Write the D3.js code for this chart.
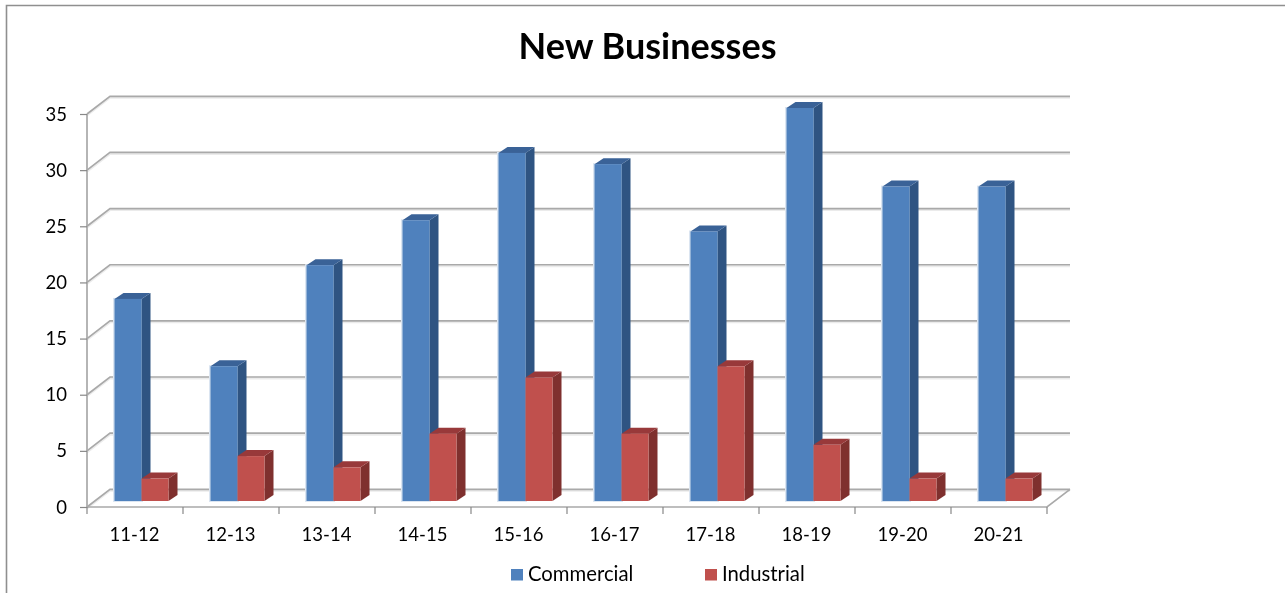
<!DOCTYPE html>
<html><head><meta charset="utf-8">
<script src="https://cdn.jsdelivr.net/npm/d3@7/dist/d3.min.js"></script>
<style>html,body{margin:0;padding:0;background:#fff;overflow:hidden}svg{display:block;filter:blur(0.4px)}text{font-family:Lato,"Open Sans",sans-serif;fill:#000}</style>
</head><body><svg id="c" width="1285" height="593"></svg>
<script>
const categories=["11-12","12-13","13-14","14-15","15-16","16-17","17-18","18-19","19-20","20-21"];
const commercial=[18,12,21,25,31,30,24,35,28,28];
const industrial=[2,4,3,6,11,6,12,5,2,2];
const yTicks=[0,5,10,15,20,25,30,35];
const seriesNames=["Commercial","Industrial"];

const svg=d3.select("#c");
const grid="#a9a9a9";
const x=d3.scaleBand().domain(categories).range([87,1047]);
const y=d3.scaleLinear().domain([0,35]).range([507,114]);
const wallDx=23,wallDy=-17.7;    // depth of the chart box
const barDx=9,barDy=-6;          // depth of each bar
const baseDx=6.5,baseDy=-6;      // offset of bar front from the floor front edge
const barW=27;

svg.append("path").attr("d","M6.5,593V5.5H1285").attr("fill","none").attr("stroke","#8f8f8f").attr("stroke-width",1.6);
svg.append("text").text("New Businesses").attr("x",647.5).attr("y",59).attr("text-anchor","middle")
  .attr("font-size",36).attr("font-weight",700);

const gridG=svg.append("g").attr("fill","none");
yTicks.forEach(t=>{
  const p=`M87,${y(t)}L${87+wallDx},${y(t)+wallDy}H${1047+wallDx}`;
  gridG.append("path").attr("d",p).attr("stroke","#000").attr("stroke-opacity",.08).attr("stroke-width",2).attr("transform","translate(0,1.5)");
  gridG.append("path").attr("d",p).attr("stroke",grid).attr("stroke-width",1.7);
});
gridG.append("path").attr("d",`M87,${y(35)}V${y(0)}H1047L${1047+wallDx},${y(0)+wallDy}`).attr("stroke",grid).attr("stroke-width",1.7);

const axisY=d3.axisLeft(y).tickValues(yTicks).tickSize(7).tickPadding(13);
const gy=svg.append("g").attr("transform","translate(87,0)").call(axisY);
const xTickVals=categories.map(c=>x(c)).concat([x.range()[1]]);
svg.append("g").selectAll("line").data(xTickVals).join("line")
  .attr("x1",d=>d).attr("x2",d=>d).attr("y1",y(0)).attr("y2",y(0)+7).attr("stroke","#888").attr("stroke-width",1.2);
gy.select(".domain").remove();
gy.selectAll("line").attr("stroke","#888").attr("stroke-width",1.2);
gy.selectAll("text").attr("font-size",18.5).attr("dy","0.33em");
svg.append("g").selectAll("text").data(categories).join("text")
  .text(d=>d).attr("x",d=>x(d)+x.bandwidth()/2-0.5).attr("y",541).attr("text-anchor","middle").attr("font-size",18.5);

function bar3d(g,x0,v,front,side,top,halo){
  const yb=y(0)+baseDy, yt=y(v)+baseDy;
  if(halo) g.append("rect").attr("x",x0-1.5).attr("y",yt-1).attr("width",barW+3).attr("height",yb-yt+2).attr("fill",halo);
  g.append("path").attr("d",`M${x0+barW},${yt}l${barDx},${barDy}V${yb+barDy}l${-barDx},${-barDy}Z`).attr("fill",side);
  g.append("path").attr("d",`M${x0},${yt}l${barDx},${barDy}h${barW}l${-barDx},${-barDy}Z`).attr("fill",top);
  g.append("rect").attr("x",x0).attr("y",yt).attr("width",barW).attr("height",yb-yt).attr("fill",front);
}
const bars=svg.append("g");
categories.forEach((c,i)=>{
  const x0=x(c)+21+baseDx;
  bar3d(bars,x0,commercial[i],"#4f81bd","#2f5482","#3a6297","#dbe5f1");
});
categories.forEach((c,i)=>{
  const x0=x(c)+21+baseDx+barW;
  bar3d(bars,x0,industrial[i],"#c0504d","#7f302e","#98393a",null);
});

const legendX=[511,705],legendC=["#4f81bd","#c0504d"];
seriesNames.forEach((s,i)=>{
  svg.append("rect").attr("x",legendX[i]).attr("y",569).attr("width",12).attr("height",11.5).attr("fill",legendC[i]);
  svg.append("text").text(s).attr("x",legendX[i]+17).attr("y",581).attr("font-size",20.3);
});
</script></body></html>
